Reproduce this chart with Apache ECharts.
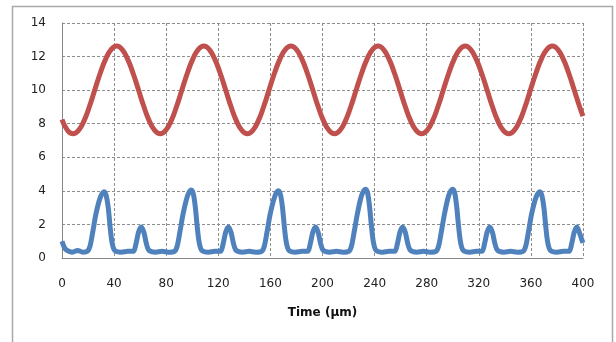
<!DOCTYPE html>
<html>
<head>
<meta charset="utf-8">
<script src="https://cdn.jsdelivr.net/npm/echarts@6/dist/echarts.min.js"></script>
<style>
  html, body { margin: 0; padding: 0; background: #fff; }
  #chart { width: 616px; height: 342px; }
</style>
</head>
<body>
<div id="chart"></div>
<script>
// axis ticks
var xTicks = [0, 40, 80, 120, 160, 200, 240, 280, 320, 360, 400];
var yTicks = [0, 2, 4, 6, 8, 10, 12, 14];

// red curve: time and value
var redTime = [
  0, 4.3,
  8.5, 12.7, 16.9, 21.0, 25.2, 29.4, 33.6, 37.8, 42.0, 46.1, 50.3, 54.5, 58.7, 62.9, 67.0, 71.2,
  75.4, 79.6, 83.8, 87.9, 92.1, 96.3, 100.5, 104.7, 108.9, 113.0, 117.2, 121.4, 125.6, 129.8, 133.9, 138.1,
  142.3, 146.5, 150.7, 154.8, 159.0, 163.2, 167.4, 171.6, 175.8, 179.9, 184.1, 188.3, 192.5, 196.7, 200.8, 205.0,
  209.2, 213.4, 217.6, 221.7, 225.9, 230.1, 234.3, 238.5, 242.7, 246.8, 251.0, 255.2, 259.4, 263.6, 267.7, 271.9,
  276.1, 280.3, 284.5, 288.6, 292.8, 297.0, 301.2, 305.4, 309.6, 313.7, 317.9, 322.1, 326.3, 330.5, 334.6, 338.8,
  343.0, 347.2, 351.4, 355.5, 359.7, 363.9, 368.1, 372.3, 376.5, 380.6, 384.8, 389.0, 393.2, 397.4, 400
];
var redValue = [
  8.25, 7.6,
  7.40, 7.60, 8.17, 9.01, 10.02, 11.02, 11.86, 12.43, 12.63, 12.43, 11.86, 11.02, 10.02, 9.01, 8.17, 7.60,
  7.40, 7.60, 8.17, 9.01, 10.02, 11.02, 11.86, 12.43, 12.63, 12.43, 11.86, 11.02, 10.02, 9.01, 8.17, 7.60,
  7.40, 7.60, 8.17, 9.01, 10.02, 11.02, 11.86, 12.43, 12.63, 12.43, 11.86, 11.02, 10.02, 9.01, 8.17, 7.60,
  7.40, 7.60, 8.17, 9.01, 10.02, 11.02, 11.86, 12.43, 12.63, 12.43, 11.86, 11.02, 10.02, 9.01, 8.17, 7.60,
  7.40, 7.60, 8.17, 9.01, 10.02, 11.02, 11.86, 12.43, 12.63, 12.43, 11.86, 11.02, 10.02, 9.01, 8.17, 7.60,
  7.40, 7.60, 8.17, 9.01, 10.02, 11.02, 11.86, 12.43, 12.63, 12.43, 11.86, 11.02, 10.02, 9.01, 8.45
];

// blue curve, [time, value]
var blueSeries = [
  [0, 1.0], [2, 0.6], [4, 0.45], [8, 0.35], [12, 0.45], [16, 0.35],
  [19.5, 0.4], [21.5, 0.7], [23.5, 1.5], [26, 2.6], [28.5, 3.4], [30.5, 3.8], [32.5, 3.95], [34, 3.7], [35.5, 3.0], [37, 1.8], [38.5, 0.9], [40.5, 0.45],
  [45.5, 0.35], [50.5, 0.4],
  [54.8, 0.4], [56.8, 0.85], [58.8, 1.55], [60.8, 1.85], [62.8, 1.55], [64.8, 0.85], [66.8, 0.45],
  [71.8, 0.35], [76.8, 0.4], [81.8, 0.35],
  [86.4, 0.4], [88.4, 0.7], [90.4, 1.5], [92.9, 2.6], [95.4, 3.45], [97.4, 3.9], [99.4, 4.05], [100.9, 3.8], [102.4, 3.0], [103.9, 1.8], [105.4, 0.9], [107.4, 0.45],
  [112.4, 0.35], [117.4, 0.4],
  [121.7, 0.4], [123.7, 0.85], [125.7, 1.55], [127.7, 1.85], [129.7, 1.55], [131.7, 0.85], [133.7, 0.45],
  [138.7, 0.35], [143.7, 0.4], [148.7, 0.35],
  [153.3, 0.4], [155.3, 0.7], [157.3, 1.5], [159.8, 2.6], [162.3, 3.4], [164.3, 3.85], [166.3, 4.0], [167.8, 3.75], [169.3, 3.0], [170.8, 1.8], [172.3, 0.9], [174.3, 0.45],
  [179.3, 0.35], [184.3, 0.4],
  [188.6, 0.4], [190.6, 0.85], [192.6, 1.55], [194.6, 1.85], [196.6, 1.55], [198.6, 0.85], [200.6, 0.45],
  [205.6, 0.35], [210.6, 0.4], [215.6, 0.35],
  [220.2, 0.4], [222.2, 0.7], [224.2, 1.5], [226.7, 2.6], [229.2, 3.5], [231.2, 3.95], [233.2, 4.1], [234.7, 3.85], [236.2, 3.0], [237.7, 1.8], [239.2, 0.9], [241.2, 0.45],
  [246.2, 0.35], [251.2, 0.4],
  [255.5, 0.4], [257.5, 0.85], [259.5, 1.55], [261.5, 1.85], [263.5, 1.55], [265.5, 0.85], [267.5, 0.45],
  [272.5, 0.35], [277.5, 0.4], [282.5, 0.35],
  [287.1, 0.4], [289.1, 0.7], [291.1, 1.5], [293.6, 2.6], [296.1, 3.5], [298.1, 3.95], [300.1, 4.1], [301.6, 3.85], [303.1, 3.0], [304.6, 1.8], [306.1, 0.9], [308.1, 0.45],
  [313.1, 0.35], [318.1, 0.4],
  [322.4, 0.4], [324.4, 0.85], [326.4, 1.55], [328.4, 1.85], [330.4, 1.55], [332.4, 0.85], [334.4, 0.45],
  [339.4, 0.35], [344.4, 0.4], [349.4, 0.35],
  [354, 0.4], [356, 0.7], [358, 1.5], [360.5, 2.6], [363, 3.4], [365, 3.8], [367, 3.95], [368.5, 3.7], [370, 3.0], [371.5, 1.8], [373, 0.9], [375, 0.45],
  [380, 0.35], [385, 0.4],
  [389.3, 0.4], [391.3, 0.85], [393.3, 1.55], [395.3, 1.85], [397.3, 1.5], [398.8, 1.15], [400, 0.9]
];

var redSeries = redTime.map(function (t, i) { return [t, redValue[i]]; });

var myChart = echarts.init(document.getElementById('chart'));
var gridColor = '#8e8e8e';
var option = {
  animation: false,
  textStyle: { fontFamily: 'DejaVu Sans' },
  graphic: [{
    type: 'rect',
    shape: { x: 12.5, y: 6.5, width: 600, height: 400 },
    style: { fill: 'none', stroke: '#a8a8a8', lineWidth: 1.5 },
    silent: true
  }],
  grid: { left: 62, right: 33, top: 23, bottom: 84 },
  xAxis: {
    type: 'value',
    min: xTicks[0],
    max: xTicks[xTicks.length - 1],
    interval: 40,
    name: 'Time (µm)',
    nameLocation: 'middle',
    nameGap: 55,
    nameTextStyle: { fontWeight: 'bold', fontSize: 12, color: '#111', verticalAlign: 'middle' },
    axisLine: { onZero: false, lineStyle: { color: '#868686', width: 1 } },
    axisTick: { show: false },
    axisLabel: { fontSize: 12, color: '#222', margin: 20 },
    splitLine: { show: true, lineStyle: { color: gridColor, type: [3, 2], width: 1 } }
  },
  yAxis: {
    type: 'value',
    min: yTicks[0],
    max: yTicks[yTicks.length - 1],
    interval: 2,
    axisLine: { show: true, lineStyle: { color: '#868686', width: 1 } },
    axisTick: { show: false },
    axisLabel: { fontSize: 12, color: '#222', margin: 16 },
    splitLine: { show: true, lineStyle: { color: gridColor, type: [3, 2], width: 1 } }
  },
  series: [
    {
      type: 'line',
      data: redSeries,
      smooth: 0.5,
      symbol: 'none',
      lineStyle: { color: '#C0504D', width: 5 }
    },
    {
      type: 'line',
      data: blueSeries,
      smooth: 0.3,
      symbol: 'none',
      lineStyle: { color: '#4F81BD', width: 5 }
    }
  ]
};
myChart.setOption(option, true);
</script>
</body>
</html>
